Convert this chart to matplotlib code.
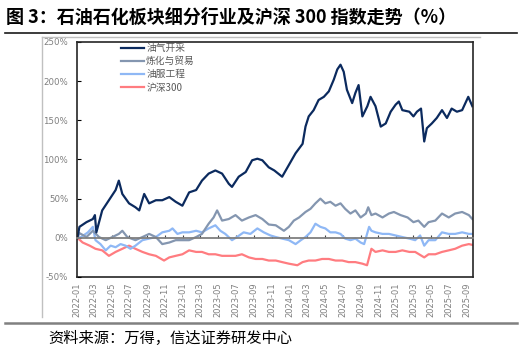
import pandas as pd
import matplotlib
matplotlib.use("Agg")
import matplotlib.pyplot as plt
from matplotlib.lines import Line2D

plt.rcParams['font.family'] = ['Noto Sans CJK SC', 'DejaVu Sans']
plt.rcParams['axes.unicode_minus'] = False

# 油气开采
oil_dates = ['2022-01-04', '2022-01-11', '2022-02-04', '2022-02-26', '2022-03-05', '2022-03-10',
             '2022-03-30', '2022-04-22', '2022-05-15', '2022-05-26', '2022-06-07', '2022-06-30',
             '2022-07-22', '2022-08-04', '2022-08-21', '2022-09-07', '2022-09-30', '2022-10-22',
             '2022-11-15', '2022-12-07', '2022-12-30', '2023-01-22', '2023-02-15', '2023-03-07',
             '2023-03-30', '2023-04-22', '2023-05-15', '2023-06-07', '2023-06-18', '2023-07-11',
             '2023-08-04', '2023-08-26', '2023-09-13', '2023-09-30', '2023-10-22', '2023-11-10',
             '2023-12-07', '2023-12-30', '2024-01-22', '2024-02-15', '2024-02-25', '2024-03-07',
             '2024-03-24', '2024-04-10', '2024-04-28', '2024-05-15', '2024-06-01', '2024-06-13',
             '2024-06-24', '2024-07-05', '2024-07-16', '2024-08-03', '2024-08-14', '2024-08-25',
             '2024-09-07', '2024-09-24', '2024-10-05', '2024-10-22', '2024-11-09', '2024-11-26',
             '2024-12-13', '2024-12-30', '2025-01-10', '2025-01-22', '2025-02-15', '2025-03-01',
             '2025-03-13', '2025-03-27', '2025-04-07', '2025-04-16', '2025-05-03', '2025-05-20',
             '2025-06-07', '2025-06-24', '2025-07-10', '2025-07-28', '2025-08-15', '2025-09-05',
             '2025-09-19']
oil_vals = [0, 14, 20, 24, 29, 7, 35, 48, 61, 73, 56, 44, 39, 35, 56, 44, 48, 48, 52, 46, 41,
            58, 61, 73, 82, 86, 82, 69, 65, 78, 84, 99, 101, 99, 90, 86, 78, 93, 108, 120, 142,
            155, 163, 176, 180, 187, 202, 215, 221, 212, 189, 172, 185, 195, 155, 168, 180, 168,
            142, 146, 161, 170, 174, 163, 161, 155, 161, 165, 123, 140, 146, 153, 163, 153, 165,
            161, 163, 180, 168]

# 炼化与贸易
ref_dates = ['2022-01-04', '2022-01-11', '2022-02-04', '2022-02-26', '2022-03-19', '2022-04-11',
             '2022-05-04', '2022-05-26', '2022-06-07', '2022-06-24', '2022-07-22', '2022-08-15',
             '2022-09-07', '2022-09-30', '2022-10-22', '2022-11-15', '2022-12-07', '2022-12-30',
             '2023-01-22', '2023-02-15', '2023-03-07', '2023-03-30', '2023-04-16', '2023-04-28',
             '2023-05-15', '2023-06-07', '2023-06-30', '2023-07-22', '2023-08-15', '2023-09-07',
             '2023-09-30', '2023-10-22', '2023-11-15', '2023-12-13', '2023-12-30', '2024-01-16',
             '2024-02-03', '2024-02-25', '2024-03-13', '2024-03-30', '2024-04-16', '2024-05-03',
             '2024-05-20', '2024-06-07', '2024-06-24', '2024-07-10', '2024-07-28', '2024-08-14',
             '2024-09-01', '2024-09-19', '2024-09-27', '2024-10-08', '2024-10-22', '2024-11-15',
             '2024-12-07', '2024-12-24', '2025-01-16', '2025-02-09', '2025-03-01', '2025-03-18',
             '2025-04-07', '2025-04-22', '2025-05-15', '2025-06-07', '2025-06-30', '2025-07-22',
             '2025-08-15', '2025-09-07', '2025-09-19']
ref_vals = [0, 6, 1, 9, 1, -3, 1, 5, 9, 1, -3, 1, 5, 1, -8, -6, -3, -3, -3, 1, 5, 18, 26, 35,
            22, 24, 29, 22, 26, 29, 24, 17, 16, 9, 14, 22, 26, 33, 37, 44, 50, 44, 46, 41, 44,
            37, 31, 35, 26, 31, 39, 29, 31, 26, 31, 33, 29, 26, 20, 22, 14, 20, 22, 31, 26, 31,
            33, 29, 24]

# 油服工程
svc_dates = ['2022-01-04', '2022-01-17', '2022-02-09', '2022-02-26', '2022-03-07', '2022-03-24',
             '2022-04-11', '2022-04-28', '2022-05-15', '2022-06-01', '2022-06-18', '2022-07-05',
             '2022-07-22', '2022-08-15', '2022-09-07', '2022-09-30', '2022-10-22', '2022-11-15',
             '2022-11-26', '2022-12-13', '2022-12-30', '2023-01-22', '2023-02-15', '2023-03-07',
             '2023-03-30', '2023-04-22', '2023-05-09', '2023-05-26', '2023-06-18', '2023-07-05',
             '2023-07-28', '2023-08-20', '2023-09-13', '2023-10-05', '2023-10-28', '2023-11-15',
             '2023-12-07', '2023-12-30', '2024-01-22', '2024-02-09', '2024-02-25', '2024-03-13',
             '2024-03-30', '2024-04-16', '2024-05-03', '2024-05-20', '2024-06-07', '2024-06-24',
             '2024-07-10', '2024-07-28', '2024-08-14', '2024-09-01', '2024-09-13', '2024-09-30',
             '2024-10-08', '2024-10-22', '2024-11-15', '2024-12-07', '2024-12-30', '2025-01-22',
             '2025-02-15', '2025-03-07', '2025-03-24', '2025-04-07', '2025-04-22', '2025-05-15',
             '2025-06-07', '2025-06-30', '2025-07-22', '2025-08-15', '2025-09-07', '2025-09-19']
svc_vals = [0, 1, 7, 14, -3, -8, -16, -10, -12, -8, -10, -14, -10, -3, -1, 1, 7, 9, 12, 5, 7,
            7, 9, 7, 12, 16, 9, 5, -3, 1, 7, 5, 12, 7, 3, 1, -1, -3, -8, -3, 1, 7, 18, 14, 12, 7,
            7, 5, -1, -3, -1, -6, -8, 14, 9, 7, 5, 5, 3, 1, -1, -3, 3, -10, -3, -3, 7, 5, 5, 7,
            5, 5]

# 沪深300
hs_dates = ['2022-01-04', '2022-01-22', '2022-02-15', '2022-03-07', '2022-03-30', '2022-04-22',
            '2022-05-15', '2022-06-07', '2022-06-30', '2022-07-22', '2022-08-15', '2022-09-07',
            '2022-09-30', '2022-10-28', '2022-11-15', '2022-12-07', '2022-12-30', '2023-01-22',
            '2023-02-15', '2023-03-07', '2023-03-30', '2023-04-22', '2023-05-15', '2023-06-07',
            '2023-06-30', '2023-07-22', '2023-08-15', '2023-09-07', '2023-09-30', '2023-10-22',
            '2023-11-15', '2023-12-07', '2023-12-30', '2024-01-28', '2024-02-15', '2024-03-07',
            '2024-03-30', '2024-04-22', '2024-05-15', '2024-06-07', '2024-06-30', '2024-07-22',
            '2024-08-14', '2024-09-07', '2024-09-23', '2024-10-08', '2024-10-22', '2024-11-15',
            '2024-12-07', '2024-12-30', '2025-01-22', '2025-02-15', '2025-03-07', '2025-04-07',
            '2025-04-22', '2025-05-15', '2025-06-07', '2025-06-30', '2025-07-22', '2025-08-15',
            '2025-09-07', '2025-09-19']
hs_vals = [0, -6, -10, -14, -16, -23, -18, -14, -10, -14, -18, -21, -23, -29, -25, -23, -21,
           -16, -18, -18, -21, -21, -23, -23, -23, -21, -25, -27, -27, -29, -29, -31, -33, -35,
           -31, -29, -29, -27, -27, -29, -29, -31, -31, -33, -35, -14, -18, -16, -18, -18, -16,
           -18, -18, -25, -21, -21, -18, -16, -14, -10, -8, -9]

series_names = ['油气开采', '炼化与贸易', '油服工程', '沪深300']
series_colors = ['#0B2A5E', '#8496B0', '#8FB8F5', '#FF7C80']

y_ticks = [-50, 0, 50, 100, 150, 200, 250]
title = '图 3：石油石化板块细分行业及沪深 300 指数走势（%）'
source = '资料来源：万得，信达证券研发中心'

fig = plt.figure(figsize=(5.22, 3.52), dpi=100)
ax = fig.add_axes([0.1466, 0.2131, 0.7594, 0.6676])

all_series = [(oil_dates, oil_vals), (ref_dates, ref_vals), (svc_dates, svc_vals), (hs_dates, hs_vals)]
# draw the index first so the oil line ends on top
for (d, v), name, col in reversed(list(zip(all_series, series_names, series_colors))):
    ax.plot(pd.to_datetime(d), v, color=col, lw=1.6, label=name, solid_joinstyle='round')

ax.set_ylim(-50, 250)
ax.set_yticks(y_ticks)
ax.set_yticklabels([f'{t}%' for t in y_ticks], family='DejaVu Sans', fontsize=6.2, color='#7F7F7F')
ax.tick_params(axis='y', direction='in', length=3, width=0.8, pad=6)
ax.set_xlim(pd.Timestamp('2022-01-01'), pd.Timestamp('2025-09-21'))

x_ticks = pd.date_range('2022-01-01', '2025-09-01', freq='2MS')

# the x axis itself sits on the zero line
ax.spines['bottom'].set_position(('data', 0))
ax.spines['bottom'].set_color('#7F7F7F')
ax.spines['bottom'].set_linewidth(1.3)
ax.set_xticks(x_ticks)
ax.tick_params(axis='x', direction='in', length=2.5, width=0.8, color='#404040', labelbottom=False)

# labels hang under the frame
sec = ax.secondary_xaxis(0)
sec.set_xticks(x_ticks)
sec.set_xticklabels([t.strftime('%Y-%m') for t in x_ticks], rotation=90,
                    family='DejaVu Sans', fontsize=6.0, color='#7F7F7F')
sec.tick_params(axis='x', length=0, pad=4)
sec.spines['bottom'].set_linewidth(1.2)
sec.spines['bottom'].set_color('#262626')

for s in ['left', 'top', 'right']:
    ax.spines[s].set_linewidth(1.2)
    ax.spines[s].set_color('#262626')

h, l = ax.get_legend_handles_labels()
leg = ax.legend(h[::-1], l[::-1], loc='upper left', bbox_to_anchor=(0.113, 0.995), frameon=False,
                fontsize=7, handlelength=2.3, handletextpad=0.25, labelspacing=0.32,
                borderpad=0, borderaxespad=0)
for t in leg.get_texts():
    t.set_color('#595959')

fig.text(0.011, 0.952, title, fontsize=13, fontweight='bold', va='center', ha='left', color='#000000')
fig.add_artist(Line2D([0.01, 0.99], [0.905, 0.905], color='#1A1A1A', lw=1.2))
# outer chart border (top and left only show)
fig.add_artist(Line2D([0.081, 0.92], [0.895, 0.895], color='#C0C0C0', lw=1.0))
fig.add_artist(Line2D([0.081, 0.081], [0.895, 0.1], color='#C0C0C0', lw=1.0))
fig.add_artist(Line2D([0.01, 0.99], [0.082, 0.082], color='#808080', lw=1.8))
fig.text(0.092, 0.038, source, fontsize=11, style='italic', va='center', ha='left', color='#000000')

fig.savefig('out.png', dpi=100)
